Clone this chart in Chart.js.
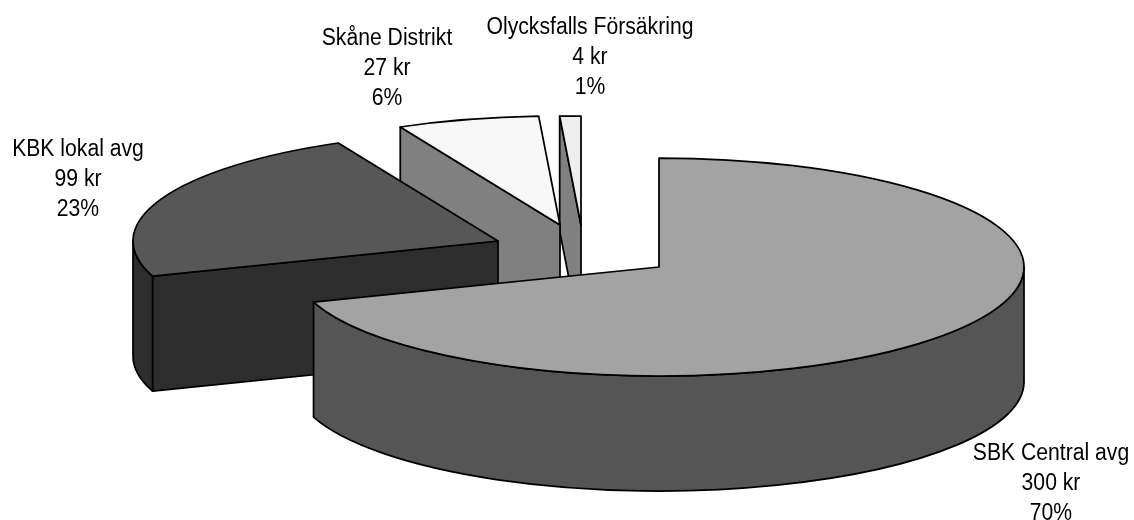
<!DOCTYPE html>
<html><head><meta charset="utf-8">
<style>html,body{margin:0;padding:0;background:#fff}#w{width:1134px;height:520px;position:relative}</style>
<script src="https://cdn.jsdelivr.net/npm/chart.js@4"></script></head>
<body><div id="w"><canvas id="c" width="1134" height="520"></canvas></div>
<script>
const categories = ["SBK Central avg", "KBK lokal avg", "Skåne Distrikt", "Olycksfalls Försäkring"];
const values = [300, 99, 27, 4];
const valueLabels = ["300 kr", "99 kr", "27 kr", "4 kr"];
const percentLabels = ["70%", "23%", "6%", "1%"];
const topColors = ["#a3a3a3", "#575757", "#f8f8f8", "#eeeeee"];
const wallColors = ["#555555", "#2d2d2d", "#808080", "#808080"];
const sliceCentres = [[659, 267], [498, 241], [560, 225], [581, 225]];
const labelCentres = [[1051, 454], [78, 150], [387, 39], [590, 28]];
const drawOrder = [3, 2, 1, 0];
const RX = 365, RY = 109, DEPTH = 115, LINE_H = 30, TEXT_SQUEEZE = 0.92, FONT = "23px 'Liberation Sans', Arial, sans-serif";

const pie3d = {
  id: "pie3d",
  beforeDatasetsDraw(chart) {
    const ctx = chart.ctx, arcs = chart.getDatasetMeta(0).data;
    ctx.save();
    ctx.lineWidth = 1.75; ctx.strokeStyle = "#000"; ctx.lineJoin = "round";
    const shape = (fill, build) => { ctx.beginPath(); build(); ctx.closePath(); ctx.fillStyle = fill; ctx.fill(); ctx.stroke(); };
    drawOrder.forEach(i => {
      const arc = arcs[i], [cx, cy] = sliceCentres[i];
      const s = arc.startAngle, e = arc.endAngle;
      const px = a => cx + RX * Math.cos(a), py = a => cy + RY * Math.sin(a);
      // only the radial walls that face the viewer
      const faces = [];
      if (Math.cos(s) < -1e-6) faces.push(s);
      if (Math.cos(e) > 1e-6) faces.push(e);
      faces.forEach(a => shape(wallColors[i], () => {
        ctx.moveTo(cx, cy); ctx.lineTo(px(a), py(a));
        ctx.lineTo(px(a), py(a) + DEPTH); ctx.lineTo(cx, cy + DEPTH);
      }));
      const a1 = Math.max(s, 0), a2 = Math.min(e, Math.PI);
      if (a2 > a1) shape(wallColors[i], () => {
        ctx.ellipse(cx, cy, RX, RY, 0, a1, a2);
        ctx.ellipse(cx, cy + DEPTH, RX, RY, 0, a2, a1, true);
      });
      // top face: the library's own arc element, mapped onto the tilted plane
      ctx.save();
      ctx.translate(cx, cy);
      ctx.scale(RX / arc.outerRadius, RY / arc.outerRadius);
      ctx.translate(-arc.x, -arc.y);
      arc.draw(ctx);
      ctx.restore();
      ctx.beginPath();
      ctx.moveTo(cx, cy);
      ctx.ellipse(cx, cy, RX, RY, 0, s, e);
      ctx.closePath(); ctx.stroke();
    });
    ctx.fillStyle = "#000"; ctx.font = FONT; ctx.textAlign = "center"; ctx.textBaseline = "middle";
    categories.forEach((name, i) => {
      [name, valueLabels[i], percentLabels[i]].forEach((t, k) => {
        ctx.save();
        ctx.translate(labelCentres[i][0], labelCentres[i][1] + k * LINE_H);
        ctx.scale(TEXT_SQUEEZE, 1);
        ctx.fillText(t, 0, 0);
        ctx.restore();
      });
    });
    ctx.restore();
    return false;
  }
};

new Chart(document.getElementById("c"), {
  type: "pie",
  data: { labels: categories, datasets: [{ data: values, backgroundColor: topColors, borderWidth: 0 }] },
  options: {
    responsive: false, animation: false,
    layout: { padding: 0 },
    plugins: { legend: { display: false }, tooltip: { enabled: false } }
  },
  plugins: [pie3d]
});
</script></body></html>
